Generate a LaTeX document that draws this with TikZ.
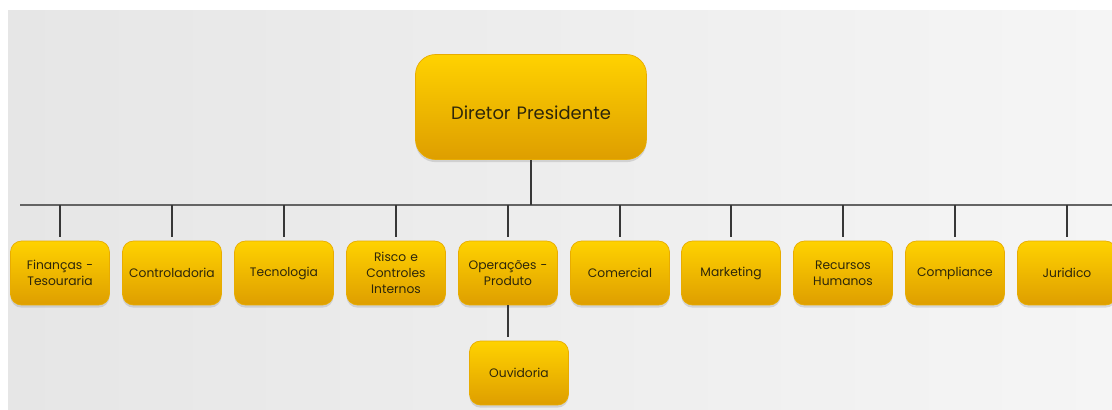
\documentclass[tikz,border=0pt]{standalone}
\usepackage{fontspec}
\setmainfont{Poppins}
\usetikzlibrary{shadows}
\definecolor{boxtop}{RGB}{255,210,0}
\definecolor{boxbot}{RGB}{222,158,0}
\definecolor{boxedge}{RGB}{232,172,0}
\definecolor{boxtext}{RGB}{45,38,10}
\definecolor{bgleft}{RGB}{230,230,230}
\definecolor{bgright}{RGB}{245,245,245}
\definecolor{busline}{RGB}{100,100,100}
\definecolor{dropline}{RGB}{55,55,55}
\begin{document}
\begin{tikzpicture}[x=0.02cm, y=-0.02cm,
    cargo/.style={rounded corners=0.22cm, draw=boxedge, line width=0.4pt,
      top color=boxtop, bottom color=boxbot, text=boxtext, align=center,
      font=\fontsize{7}{9}\selectfont, minimum width=1.98cm,
      minimum height=1.28cm, text width=1.9cm, inner sep=0pt,
      drop shadow={opacity=0.25, shadow xshift=0pt, shadow yshift=-1.5pt}},
    chefe/.style={cargo, rounded corners=0.4cm, minimum width=4.62cm,
      minimum height=2.1cm, text width=4.4cm, text height=17pt, text depth=3pt,
      font=\fontsize{10.2}{12}\selectfont},
    link/.style={draw=dropline, line width=0.6pt}]
  \useasboundingbox (0,0) rectangle (1112,409);
  \fill[left color=bgleft, right color=bgright] (8,10) rectangle (1112,409);

  \node[chefe] (diretor) at (531,107) {Diretor Presidente};

  \node[cargo] (financas) at (60,273) {Finanças -\\Tesouraria};
  \node[cargo] (controladoria) at (172,273) {Controladoria};
  \node[cargo] (tecnologia) at (284,273) {Tecnologia};
  \node[cargo] (risco) at (396,273) {Risco e\\Controles\\Internos};
  \node[cargo] (operacoes) at (508,273) {Operações -\\Produto};
  \node[cargo] (comercial) at (620,273) {Comercial};
  \node[cargo] (marketing) at (731,273) {Marketing};
  \node[cargo] (recursos) at (843,273) {Recursos\\Humanos};
  \node[cargo] (compliance) at (955,273) {Compliance};
  \node[cargo] (juridico) at (1067,273) {Juridico};

  \node[cargo] (ouvidoria) at (519,373) {Ouvidoria};

  \coordinate (bus_left) at (20,205);
  \coordinate (bus_right) at (1112,205);

  \draw[draw=busline, line width=0.8pt] (bus_left) -- (bus_right);
  \draw[link] (diretor.south) -- (diretor.south |- bus_left);

  \foreach \cargo in {financas,controladoria,tecnologia,risco,operacoes,
      comercial,marketing,recursos,compliance,juridico}
    \draw[link] (\cargo.north |- bus_left) -- ([yshift=2pt]\cargo.north);

  \draw[link] (operacoes.south) -- ([yshift=2pt]operacoes.south |- ouvidoria.north);

\end{tikzpicture}
\end{document}
